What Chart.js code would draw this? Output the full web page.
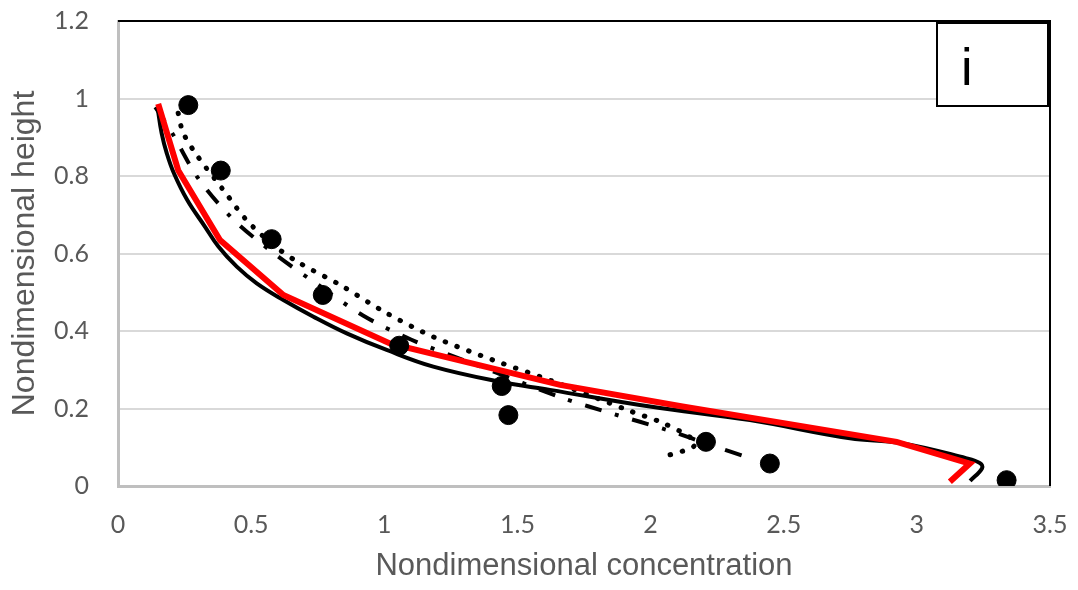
<!DOCTYPE html>
<html lang="en">

<head>
    <meta charset="UTF-8">
    <title>Nondimensional concentration profile</title>
    <style>
        body {
            margin: 0;
            background: #fff;
        }
    </style>
    <script src="https://cdn.jsdelivr.net/npm/chart.js"></script>
</head>

<body>
    <canvas id="chart" width="1078" height="590"></canvas>

    <script>
        // measured points (dots)
        const measX = [0.264, 0.386, 0.577, 0.769, 1.056, 1.441, 1.466, 2.208, 2.448, 3.337];
        const measY = [0.983, 0.814, 0.637, 0.493, 0.362, 0.258, 0.183, 0.114, 0.058, 0.015];

        // black solid curve
        const blackX = [0.148, 0.164, 0.183, 0.210, 0.260, 0.327, 0.377, 0.446, 0.521, 0.621, 0.734, 0.859, 1.009, 1.184, 1.434, 1.622, 1.998, 2.373, 2.749, 2.937, 3.184, 3.237, 3.245, 3.200];
        const blackY = [0.979, 0.910, 0.859, 0.807, 0.738, 0.669, 0.618, 0.566, 0.523, 0.480, 0.437, 0.394, 0.351, 0.308, 0.269, 0.248, 0.205, 0.170, 0.123, 0.111, 0.072, 0.059, 0.046, 0.013];

        // red curve
        const redX = [0.151, 0.226, 0.383, 0.621, 1.021, 1.660, 2.120, 2.924, 3.199, 3.124];
        const redY = [0.986, 0.815, 0.635, 0.493, 0.368, 0.261, 0.205, 0.114, 0.058, 0.011];

        // long dash - dot curve
        const dashX = [0.140, 0.200, 0.300, 0.430, 0.590, 0.750, 0.920, 1.100, 1.370, 1.670, 1.860, 2.060, 2.250, 2.350];
        const dashY = [0.978, 0.915, 0.795, 0.690, 0.598, 0.520, 0.440, 0.378, 0.306, 0.227, 0.186, 0.145, 0.100, 0.077];

        // dotted curve
        const dotX = [0.226, 0.245, 0.300, 0.400, 0.483, 0.583, 0.683, 0.834, 1.009, 1.184, 1.409, 1.622, 1.929, 2.035, 2.135, 2.170, 2.150, 2.040];
        const dotY = [0.962, 0.911, 0.850, 0.760, 0.686, 0.622, 0.575, 0.519, 0.446, 0.385, 0.325, 0.273, 0.192, 0.166, 0.132, 0.110, 0.097, 0.074];

        const panelLabel = 'i';

        function pts(xs, ys) {
            return xs.map((x, i) => ({ x: x, y: ys[i] }));
        }

        // 1.0 -> "1", 0.5 -> "0.5"
        function tickFmt(v) {
            return String(+v.toFixed(2));
        }

        const gray = '#595959';

        // black frame on top/right + the little "i" box
        const framePlugin = {
            id: 'frame',
            beforeDatasetsDraw(chart) {
                const { ctx, chartArea: a } = chart;
                ctx.save();
                ctx.strokeStyle = '#000';
                ctx.lineWidth = 2;
                ctx.beginPath();
                ctx.moveTo(a.left, a.top);
                ctx.lineTo(a.right, a.top);
                ctx.lineTo(a.right, a.bottom);
                ctx.stroke();
                ctx.restore();
            },
            afterDraw(chart) {
                const { ctx, chartArea: a } = chart;
                ctx.save();
                const x0 = a.right - 113, y0 = a.top + 2;
                ctx.fillStyle = '#fff';
                ctx.fillRect(x0, y0, 111, 83);
                ctx.strokeStyle = '#000';
                ctx.lineWidth = 2;
                ctx.strokeRect(x0, y0, 111, 83);
                ctx.fillStyle = '#000';
                ctx.font = '52px "Liberation Sans"';
                ctx.textBaseline = 'alphabetic';
                ctx.fillText(panelLabel, x0 + 24, y0 + 62);
                ctx.restore();
            }
        };

        const ctx = document.getElementById('chart').getContext('2d');
        const chart = new Chart(ctx, {
            type: 'scatter',
            data: {
                datasets: [
                    {
                        data: pts(measX, measY),
                        pointRadius: 9.5,
                        pointBackgroundColor: '#000',
                        pointBorderColor: '#000',
                        showLine: false
                    },
                    {
                        data: pts(redX, redY),
                        showLine: true,
                        borderColor: '#ff0000',
                        borderWidth: 6,
                        tension: 0,
                        pointRadius: 0
                    },
                    {
                        data: pts(blackX, blackY),
                        showLine: true,
                        borderColor: '#000',
                        borderWidth: 4,
                        tension: 0.4,
                        pointRadius: 0
                    },
                    {
                        data: pts(dashX, dashY),
                        showLine: true,
                        borderColor: '#000',
                        borderWidth: 4,
                        borderDash: [17, 14, 4, 14],
                        tension: 0.3,
                        pointRadius: 0
                    },
                    {
                        data: pts(dotX, dotY),
                        showLine: true,
                        borderColor: '#000',
                        borderWidth: 5,
                        borderDash: [0.5, 12],
                        borderCapStyle: 'round',
                        tension: 0.3,
                        pointRadius: 0
                    }
                ]
            },
            options: {
                responsive: false,
                animation: false,
                layout: {
                    padding: { top: 21, right: 28, left: 0, bottom: 0 }
                },
                plugins: {
                    legend: { display: false },
                    tooltip: { enabled: false }
                },
                scales: {
                    x: {
                        type: 'linear',
                        min: 0,
                        max: 3.5,
                        afterFit: (s) => {
                            s.height = 104;
                            s.paddingLeft = 0;
                            s.paddingRight = 0;
                        },
                        ticks: {
                            stepSize: 0.5,
                            padding: 24,
                            color: gray,
                            font: { family: 'Lato', size: 25 },
                            callback: tickFmt
                        },
                        grid: { display: false, drawTicks: false },
                        border: { color: '#bfbfbf', width: 3 },
                        title: {
                            display: true,
                            text: 'Nondimensional concentration',
                            color: gray,
                            font: { family: 'Liberation Sans', size: 31 },
                            padding: { top: 0, bottom: 5 }
                        }
                    },
                    y: {
                        min: 0,
                        max: 1.2,
                        afterFit: (s) => {
                            s.width = 118;
                            s.paddingTop = 0;
                            s.paddingBottom = 0;
                        },
                        ticks: {
                            stepSize: 0.2,
                            padding: 29,
                            color: gray,
                            font: { family: 'Lato', size: 25 },
                            callback: tickFmt
                        },
                        grid: { color: '#d9d9d9', lineWidth: 2, drawTicks: false },
                        border: { color: '#bfbfbf', width: 3 },
                        title: {
                            display: true,
                            text: 'Nondimensional height',
                            color: gray,
                            font: { family: 'Liberation Sans', size: 32 },
                            padding: { top: 6, bottom: 0 }
                        }
                    }
                }
            },
            plugins: [framePlugin]
        });
    </script>
</body>

</html>
